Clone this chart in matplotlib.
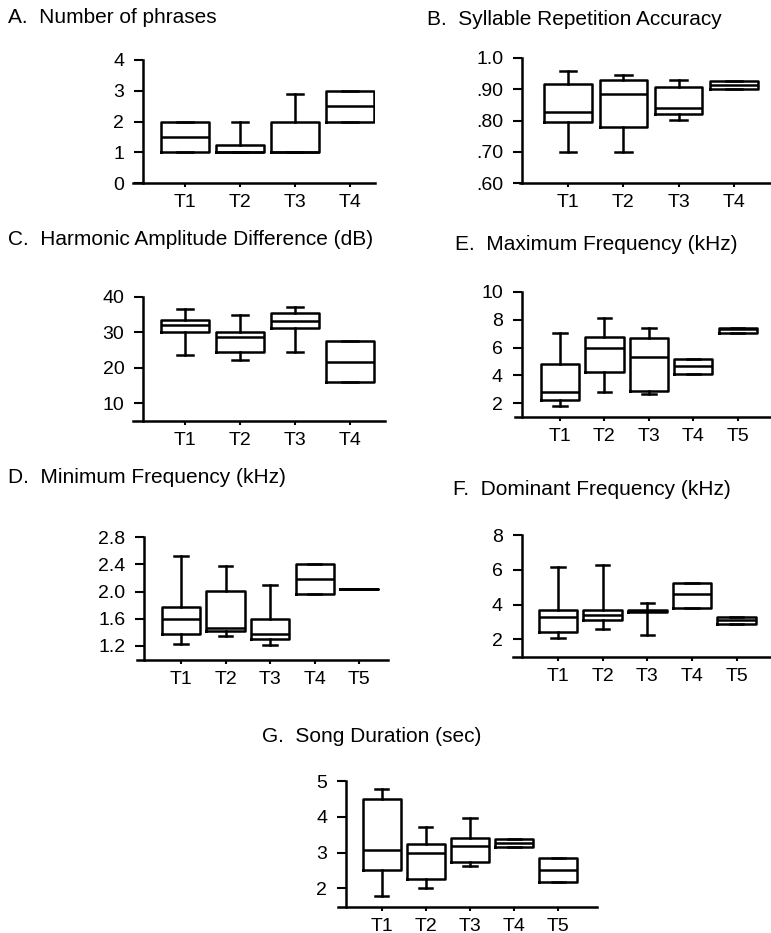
import matplotlib
matplotlib.use("Agg")
import matplotlib.pyplot as plt

plt.rcParams['font.family'] = ['Liberation Sans', 'DejaVu Sans']

W, H = 771, 933

# ---------------- data ----------------
A_labels = ['T1', 'T2', 'T3', 'T4']
A_whislo = [1.0, 1.0, 1.0, 2.0]
A_q1 = [1.0, 1.0, 1.0, 2.0]
A_med = [1.5, 1.0, 1.0, 2.52]
A_q3 = [2.0, 1.25, 2.0, 3.0]
A_whishi = [2.0, 2.0, 2.9, 3.0]

B_labels = ['T1', 'T2', 'T3', 'T4']
B_whislo = [0.70, 0.70, 0.803, 0.902]
B_q1 = [0.795, 0.779, 0.822, 0.902]
B_med = [0.827, 0.884, 0.840, 0.914]
B_q3 = [0.917, 0.929, 0.907, 0.925]
B_whishi = [0.957, 0.945, 0.930, 0.925]

C_labels = ['T1', 'T2', 'T3', 'T4']
C_whislo = [23.6, 22.2, 24.5, 15.9]
C_q1 = [30.0, 24.5, 31.1, 15.9]
C_med = [31.9, 28.6, 33.2, 21.7]
C_q3 = [33.4, 30.0, 35.3, 27.6]
C_whishi = [36.5, 34.8, 37.2, 27.6]

D_labels = ['T1', 'T2', 'T3', 'T4', 'T5']
D_whislo = [1.23, 1.34, 1.21, 1.96, 2.03]
D_q1 = [1.37, 1.42, 1.30, 1.96, 2.03]
D_med = [1.60, 1.46, 1.37, 2.185, 2.03]
D_q3 = [1.77, 2.005, 1.59, 2.41, 2.03]
D_whishi = [2.527, 2.38, 2.10, 2.41, 2.03]

E_labels = ['T1', 'T2', 'T3', 'T4', 'T5']
E_whislo = [1.81, 2.79, 2.67, 4.10, 7.05]
E_q1 = [2.24, 4.27, 2.91, 4.10, 7.05]
E_med = [2.84, 6.0, 5.29, 4.70, 7.3]
E_q3 = [4.79, 6.77, 6.65, 5.17, 7.42]
E_whishi = [7.01, 8.13, 7.42, 5.17, 7.42]

F_labels = ['T1', 'T2', 'T3', 'T4', 'T5']
F_whislo = [2.06, 2.58, 2.27, 3.79, 2.88]
F_q1 = [2.41, 3.12, 3.56, 3.79, 2.88]
F_med = [3.27, 3.40, 3.62, 4.61, 3.11]
F_q3 = [3.69, 3.69, 3.70, 5.26, 3.31]
F_whishi = [6.18, 6.28, 4.07, 5.26, 3.31]

G_labels = ['T1', 'T2', 'T3', 'T4', 'T5']
G_whislo = [1.79, 2.0, 2.62, 3.15, 2.17]
G_q1 = [2.51, 2.25, 2.74, 3.15, 2.17]
G_med = [3.07, 2.98, 3.18, 3.26, 2.51]
G_q3 = [4.49, 3.23, 3.42, 3.38, 2.86]
G_whishi = [4.77, 3.71, 3.96, 3.38, 2.86]

A_yticks = [0, 1, 2, 3, 4]
A_yticklabels = ['0', '1', '2', '3', '4']
B_yticks = [0.6, 0.7, 0.8, 0.9, 1.0]
B_yticklabels = ['.60', '.70', '.80', '.90', '1.0']
C_yticks = [10, 20, 30, 40]
C_yticklabels = ['10', '20', '30', '40']
D_yticks = [1.2, 1.6, 2.0, 2.4, 2.8]
D_yticklabels = ['1.2', '1.6', '2.0', '2.4', '2.8']
E_yticks = [2, 4, 6, 8, 10]
E_yticklabels = ['2', '4', '6', '8', '10']
F_yticks = [2, 4, 6, 8]
F_yticklabels = ['2', '4', '6', '8']
G_yticks = [2, 3, 4, 5]
G_yticklabels = ['2', '3', '4', '5']

A_title = 'A.  Number of phrases'
B_title = 'B.  Syllable Repetition Accuracy'
C_title = 'C.  Harmonic Amplitude Difference (dB)'
D_title = 'D.  Minimum Frequency (kHz)'
E_title = 'E.  Maximum Frequency (kHz)'
F_title = 'F.  Dominant Frequency (kHz)'
G_title = 'G.  Song Duration (sec)'

fig = plt.figure(figsize=(W / 100, H / 100), dpi=100)
fig.patch.set_facecolor('white')

LW = 1.8


def panel(left, right, top, bottom, spine, xlim, ylim,
          labels, whislo, q1, med, q3, whishi, yticks, yticklabels):
    ax = fig.add_axes([left / W, 1 - bottom / H, (right - left) / W, (bottom - top) / H])
    stats = []
    for i in range(len(labels)):
        stats.append(dict(label=labels[i], whislo=whislo[i], q1=q1[i], med=med[i],
                          q3=q3[i], whishi=whishi[i], fliers=[]))
    positions = list(range(1, len(labels) + 1))
    ax.bxp(stats, positions=positions, widths=0.86, capwidths=0.3,
           showfliers=False, patch_artist=False,
           boxprops=dict(color='black', linewidth=LW),
           medianprops=dict(color='black', linewidth=LW),
           whiskerprops=dict(color='black', linewidth=LW),
           capprops=dict(color='black', linewidth=LW))
    ax.set_xlim(*xlim)
    ax.set_ylim(*ylim)
    ax.set_xticks(positions)
    ax.set_xticklabels(labels)
    ax.set_yticks(yticks)
    ax.set_yticklabels(yticklabels)
    for s in ['top', 'right']:
        ax.spines[s].set_visible(False)
    ax.spines['left'].set_position(('axes', (spine - left) / (right - left)))
    ax.spines['left'].set_linewidth(LW)
    ax.spines['bottom'].set_linewidth(LW)
    ax.tick_params(axis='y', direction='out', length=6.5, width=1.5, pad=7,
                   labelsize=14, color='black')
    ax.tick_params(axis='x', direction='out', length=3, width=1.5, pad=5,
                   labelsize=14, color='black')
    ax.patch.set_visible(False)
    return ax


def title(x, y, text):
    fig.text(x / W, 1 - y / H, text, fontsize=15, ha='left', va='baseline')


# A
panel(133, 375, 60, 183, 143, (1 - 52 / 55, 4 + 25 / 55), (0, 4),
      A_labels, A_whislo, A_q1, A_med, A_q3, A_whishi, A_yticks, A_yticklabels)
title(8, 23, A_title)

# B
panel(520, 770, 58, 183, 522, (1 - 48 / 55.3, 4 + 36 / 55.3), (0.6, 1.0),
      B_labels, B_whislo, B_q1, B_med, B_q3, B_whishi, B_yticks, B_yticklabels)
title(427, 25, B_title)

# C
panel(133, 385, 296.7, 421, 143, (1 - 52 / 55, 4 + 35 / 55), (5.0, 40),
      C_labels, C_whislo, C_q1, C_med, C_q3, C_whishi, C_yticks, C_yticklabels)
title(8, 245, C_title)

# E
panel(515, 770, 291.7, 416.7, 521.7, (1 - 45 / 44.4, 5 + 32.3 / 44.4), (1.05, 10),
      E_labels, E_whislo, E_q1, E_med, E_q3, E_whishi, E_yticks, E_yticklabels)
title(455, 250, E_title)

# D
panel(137, 388, 537.3, 660, 144, (1 - 44 / 44.6, 5 + 28.7 / 44.6), (0.99, 2.8),
      D_labels, D_whislo, D_q1, D_med, D_q3, D_whishi, D_yticks, D_yticklabels)
title(8, 483, D_title)

# F
panel(513, 770, 535, 657.3, 521.7, (1 - 45 / 44.7, 5 + 33.3 / 44.7), (0.964, 8),
      F_labels, F_whislo, F_q1, F_med, F_q3, F_whishi, F_yticks, F_yticklabels)
title(453, 495, F_title)

# G
panel(338, 596.7, 781, 906.7, 346, (1 - 43.7 / 44.2, 5 + 38.4 / 44.2), (1.486, 5),
      G_labels, G_whislo, G_q1, G_med, G_q3, G_whishi, G_yticks, G_yticklabels)
title(262, 741.7, G_title)

fig.savefig('out.png', dpi=100, facecolor='white')
